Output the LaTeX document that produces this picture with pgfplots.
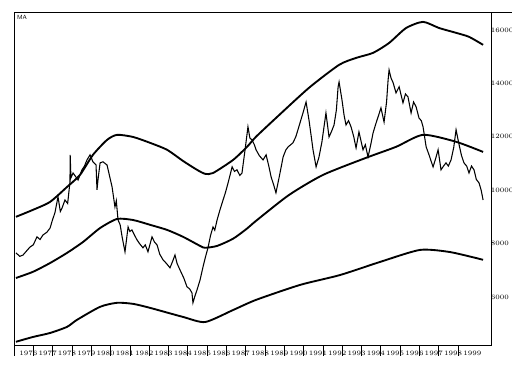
\documentclass[border=0pt]{standalone}
\usepackage{pgfplots}
\pgfplotsset{compat=1.18}
\begin{document}
\begin{tikzpicture}
\begin{axis}[
  scale only axis,
  width=357.75pt, height=249.75pt,
  xmin=1976, xmax=2000.71, ymin=4200, ymax=16670,
  axis line style={line width=0.7pt},
  xtick={1976,...,1999},
  xtick pos=bottom,
  tick align=outside,
  major tick length=8pt,
  xticklabel style={anchor=north west, xshift=0.5pt, yshift=7pt, font=\fontsize{5}{5}\selectfont},
  x tick label style={/pgf/number format/1000 sep={}},
  scaled y ticks=false,
  ytick={6000,8000,10000,12000,14000,16000},
  ytick pos=right,
  yticklabel pos=right,
  ytick style={draw=none},
  y tick label style={/pgf/number format/1000 sep={}, font=\fontsize{3.7}{4.2}\selectfont, anchor=west, inner sep=0pt, xshift=-8.3pt},
  every tick/.style={black, line width=0.4pt},
  clip=false,
]
% upper band
\addplot[black, line width=1.4pt, smooth, tension=0.4] coordinates {
(1976.10,9000)(1976.98,9260)(1977.87,9560)(1978.75,10120)(1979.42,10570)(1980.09,11320)(1980.82,11880)(1981.34,12070)(1982.17,11990)(1983.05,11770)(1983.93,11510)(1984.76,11090)(1985.48,10760)(1985.90,10610)(1986.31,10640)(1987.35,11130)(1988.07,11620)(1988.54,12000)(1989.57,12700)(1991.28,13830)(1992.84,14690)(1993.72,14950)(1994.60,15140)(1995.43,15510)(1996.31,16070)(1997.19,16300)(1998.02,16070)(1998.90,15890)(1999.57,15740)(2000.30,15440)
};
% middle band
\addplot[black, line width=1.4pt, smooth, tension=0.4] coordinates {
(1976.10,6710)(1976.98,6940)(1977.87,7270)(1978.75,7650)(1979.58,8060)(1980.46,8580)(1981.34,8920)(1982.17,8880)(1983.05,8700)(1983.93,8510)(1984.76,8250)(1985.64,7910)(1985.90,7840)(1986.52,7910)(1987.35,8180)(1988.07,8560)(1988.54,8850)(1990.25,9820)(1992.01,10570)(1994.24,11210)(1995.79,11620)(1997.19,12070)(1998.90,11810)(2000.30,11430)
};
% lower band
\addplot[black, line width=1.4pt, smooth, tension=0.4] coordinates {
(1976.10,4320)(1976.98,4500)(1977.87,4650)(1978.75,4880)(1979.26,5140)(1980.46,5630)(1981.34,5780)(1982.17,5740)(1983.05,5590)(1984.76,5250)(1985.90,5060)(1987.35,5510)(1988.54,5890)(1990.82,6450)(1992.89,6820)(1994.96,7310)(1997.03,7760)(1998.59,7680)(2000.30,7390)
};
% price
\addplot[black, line width=0.8pt] coordinates {
(1976.10,7650)(1976.30,7520)(1976.47,7570)(1976.60,7680)(1976.83,7870)(1977.00,7950)(1977.19,8250)(1977.35,8150)(1977.50,8320)(1977.70,8420)(1977.87,8580)(1978.00,8900)(1978.12,9150)(1978.28,9750)(1978.40,9200)(1978.49,9330)(1978.64,9630)(1978.78,9500)(1978.90,10310)(1978.91,11320)(1978.95,10460)(1979.06,10640)(1979.20,10500)(1979.32,10380)(1979.52,10760)(1979.65,10900)(1979.78,11130)(1979.94,11320)(1980.09,11060)(1980.25,10940)(1980.30,10010)(1980.35,10380)(1980.46,11020)(1980.61,11060)(1980.82,10940)(1981.08,10120)(1981.23,9370)(1981.30,9600)(1981.39,8880)(1981.50,8700)(1981.60,8250)(1981.75,7690)(1981.91,8620)(1982.00,8450)(1982.11,8510)(1982.25,8300)(1982.37,8140)(1982.50,8000)(1982.68,7840)(1982.80,7950)(1982.94,7690)(1983.15,8250)(1983.28,8050)(1983.41,7950)(1983.55,7600)(1983.72,7390)(1983.90,7250)(1984.08,7090)(1984.20,7300)(1984.34,7570)(1984.45,7250)(1984.60,7010)(1984.80,6700)(1984.96,6380)(1985.10,6300)(1985.22,6150)(1985.27,5780)(1985.38,6050)(1985.48,6260)(1985.64,6640)(1985.79,7120)(1985.92,7500)(1986.05,7840)(1986.18,8300)(1986.31,8620)(1986.40,8500)(1986.52,8880)(1986.67,9260)(1986.83,9630)(1986.95,9900)(1987.09,10270)(1987.30,10870)(1987.42,10700)(1987.55,10760)(1987.70,10550)(1987.81,10640)(1987.97,11510)(1988.12,12370)(1988.22,11950)(1988.33,11880)(1988.45,11700)(1988.54,11510)(1988.70,11300)(1988.90,11130)(1989.06,11320)(1989.20,10900)(1989.32,10490)(1989.45,10200)(1989.57,9900)(1989.73,10460)(1989.85,10900)(1989.94,11240)(1990.08,11500)(1990.20,11620)(1990.45,11770)(1990.60,12000)(1990.71,12260)(1990.85,12600)(1990.97,12890)(1991.13,13300)(1991.28,12630)(1991.40,12000)(1991.49,11510)(1991.65,10870)(1991.80,11240)(1991.95,11800)(1992.06,12370)(1992.16,12890)(1992.32,11990)(1992.45,12200)(1992.58,12440)(1992.70,13000)(1992.79,13870)(1992.84,14050)(1992.99,13380)(1993.10,12800)(1993.20,12440)(1993.33,12600)(1993.46,12370)(1993.60,12000)(1993.72,11580)(1993.87,12180)(1994.08,11510)(1994.20,11700)(1994.34,11240)(1994.48,11700)(1994.60,12140)(1994.75,12500)(1994.86,12740)(1995.01,13080)(1995.17,12550)(1995.30,13300)(1995.38,14130)(1995.43,14500)(1995.53,14200)(1995.64,14020)(1995.79,13640)(1995.95,13870)(1996.15,13270)(1996.28,13600)(1996.41,13490)(1996.57,12890)(1996.70,13300)(1996.83,13120)(1996.98,12700)(1997.10,12600)(1997.19,12370)(1997.35,11620)(1997.50,11320)(1997.60,11100)(1997.71,10870)(1997.85,11200)(1997.97,11510)(1998.12,10760)(1998.25,10900)(1998.38,11020)(1998.50,10900)(1998.64,11130)(1998.78,11600)(1998.90,12260)(1999.06,11690)(1999.18,11300)(1999.31,11020)(1999.45,10900)(1999.57,10640)(1999.70,10900)(1999.83,10760)(1999.95,10400)(2000.09,10270)(2000.20,10000)(2000.30,9630)
};
\node[anchor=north west, font=\sffamily\fontsize{4.5}{5}\selectfont, inner sep=1pt] at (rel axis cs:0.003,0.995) {MA};
\draw[line width=0.7pt] (rel axis cs:1,1) -- (rel axis cs:1.06,1);
\coordinate (sw) at (rel axis cs:0,0);
\coordinate (ne) at (rel axis cs:1,1);
\end{axis}
\pgfresetboundingbox
\useasboundingbox ([xshift=-10.5pt,yshift=-16.5pt]sw) rectangle ([xshift=15.75pt,yshift=9pt]ne);
\end{tikzpicture}
\end{document}
